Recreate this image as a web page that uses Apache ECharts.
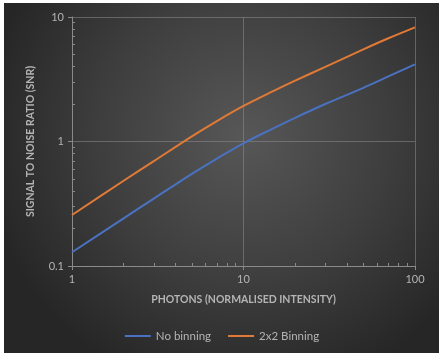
<!DOCTYPE html>
<html>
<head>
<meta charset="utf-8">
<script src="https://cdn.jsdelivr.net/npm/echarts@6/dist/echarts.min.js"></script>
<style>
html,body{margin:0;padding:0;background:#ffffff;width:444px;height:359px;overflow:hidden;}
#chart{position:absolute;left:4px;top:3px;width:435px;height:350px;}
</style>
</head>
<body>
<div id="chart"></div>
<script>
const photons = [1, 2, 3, 5, 7, 10, 15, 20, 30, 50, 70, 100];
const noBinning = [0.129, 0.2415, 0.348, 0.55, 0.73, 0.968, 1.28, 1.55, 2.0, 2.7, 3.33, 4.17];
const binning2x2 = [0.257, 0.484, 0.695, 1.10, 1.46, 1.93, 2.55, 3.08, 3.98, 5.5, 6.75, 8.26];
const xMinorTicks = [2, 3, 4, 5, 6, 7, 8, 9, 20, 30, 40, 50, 60, 70, 80, 90];
const yMinorTicks = [0.2, 0.3, 0.4, 0.5, 0.6, 0.7, 0.8, 0.9, 2, 3, 4, 5, 6, 7, 8, 9];
const seriesNames = ['No binning', '2x2 Binning'];

const font = 'Lato, "Open Sans", sans-serif';
const txt = '#b4b4b4';
const axisCol = '#8a8a8a';
const gridCol = 'rgba(140,140,140,0.55)';

const chart = echarts.init(document.getElementById('chart'));
chart.setOption({
  backgroundColor: {
    type: 'radial', x: 0.55, y: 0.38, r: 0.75,
    colorStops: [
      {offset: 0, color: '#575757'},
      {offset: 0.55, color: '#3e3e3e'},
      {offset: 1, color: '#262626'}
    ]
  },
  animation: false,
  grid: {left: 68, top: 14, right: 24, bottom: 87},
  legend: {
    bottom: 6, left: 'center',
    itemWidth: 26, itemHeight: 2, itemGap: 16,
    textStyle: {color: txt, fontFamily: font, fontSize: 11.5},
    data: seriesNames
  },
  xAxis: [{
    type: 'log', logBase: 10, min: 1, max: 100,
    name: 'PHOTONS (NORMALISED INTENSITY)', nameLocation: 'middle', nameGap: 28,
    nameTextStyle: {color: txt, fontFamily: font, fontSize: 10.5, fontWeight: 'bold'},
    axisLine: {show: true, lineStyle: {color: axisCol, width: 1}},
    axisTick: {show: true, length: 4, lineStyle: {color: axisCol}},
    axisLabel: {color: txt, fontFamily: font, fontSize: 11, margin: 8},
    splitLine: {show: true, lineStyle: {color: gridCol, width: 1}}
  }, {
    type: 'log', logBase: 10, min: 1, max: 100, position: 'bottom',
    axisLine: {show: false},
    axisTick: {show: true, inside: true, length: 3, customValues: xMinorTicks, lineStyle: {color: axisCol}},
    axisLabel: {show: false},
    splitLine: {show: false}
  }],
  yAxis: [{
    type: 'log', logBase: 10, min: 0.1, max: 10,
    name: 'SIGNAL TO NOISE RATIO (SNR)', nameLocation: 'middle', nameGap: 36,
    nameTextStyle: {color: txt, fontFamily: font, fontSize: 10.5, fontWeight: 'bold'},
    axisLine: {show: true, lineStyle: {color: axisCol, width: 1}},
    axisTick: {show: true, length: 4, lineStyle: {color: axisCol}},
    axisLabel: {color: txt, fontFamily: font, fontSize: 11, margin: 8},
    splitLine: {show: true, lineStyle: {color: gridCol, width: 1}}
  }, {
    type: 'log', logBase: 10, min: 0.1, max: 10, position: 'left',
    axisLine: {show: false},
    axisTick: {show: true, inside: true, length: 3, customValues: yMinorTicks, lineStyle: {color: axisCol}},
    axisLabel: {show: false},
    splitLine: {show: false}
  }],
  series: [{
    name: seriesNames[0], type: 'line', smooth: 0.35, symbol: 'none',
    lineStyle: {color: '#4a72c0', width: 2}, itemStyle: {color: '#4a72c0'},
    data: photons.map((p, i) => [p, noBinning[i]])
  }, {
    name: seriesNames[1], type: 'line', smooth: 0.35, symbol: 'none',
    lineStyle: {color: '#e07a36', width: 2}, itemStyle: {color: '#e07a36'},
    data: photons.map((p, i) => [p, binning2x2[i]])
  }]
});
</script>
</body>
</html>
